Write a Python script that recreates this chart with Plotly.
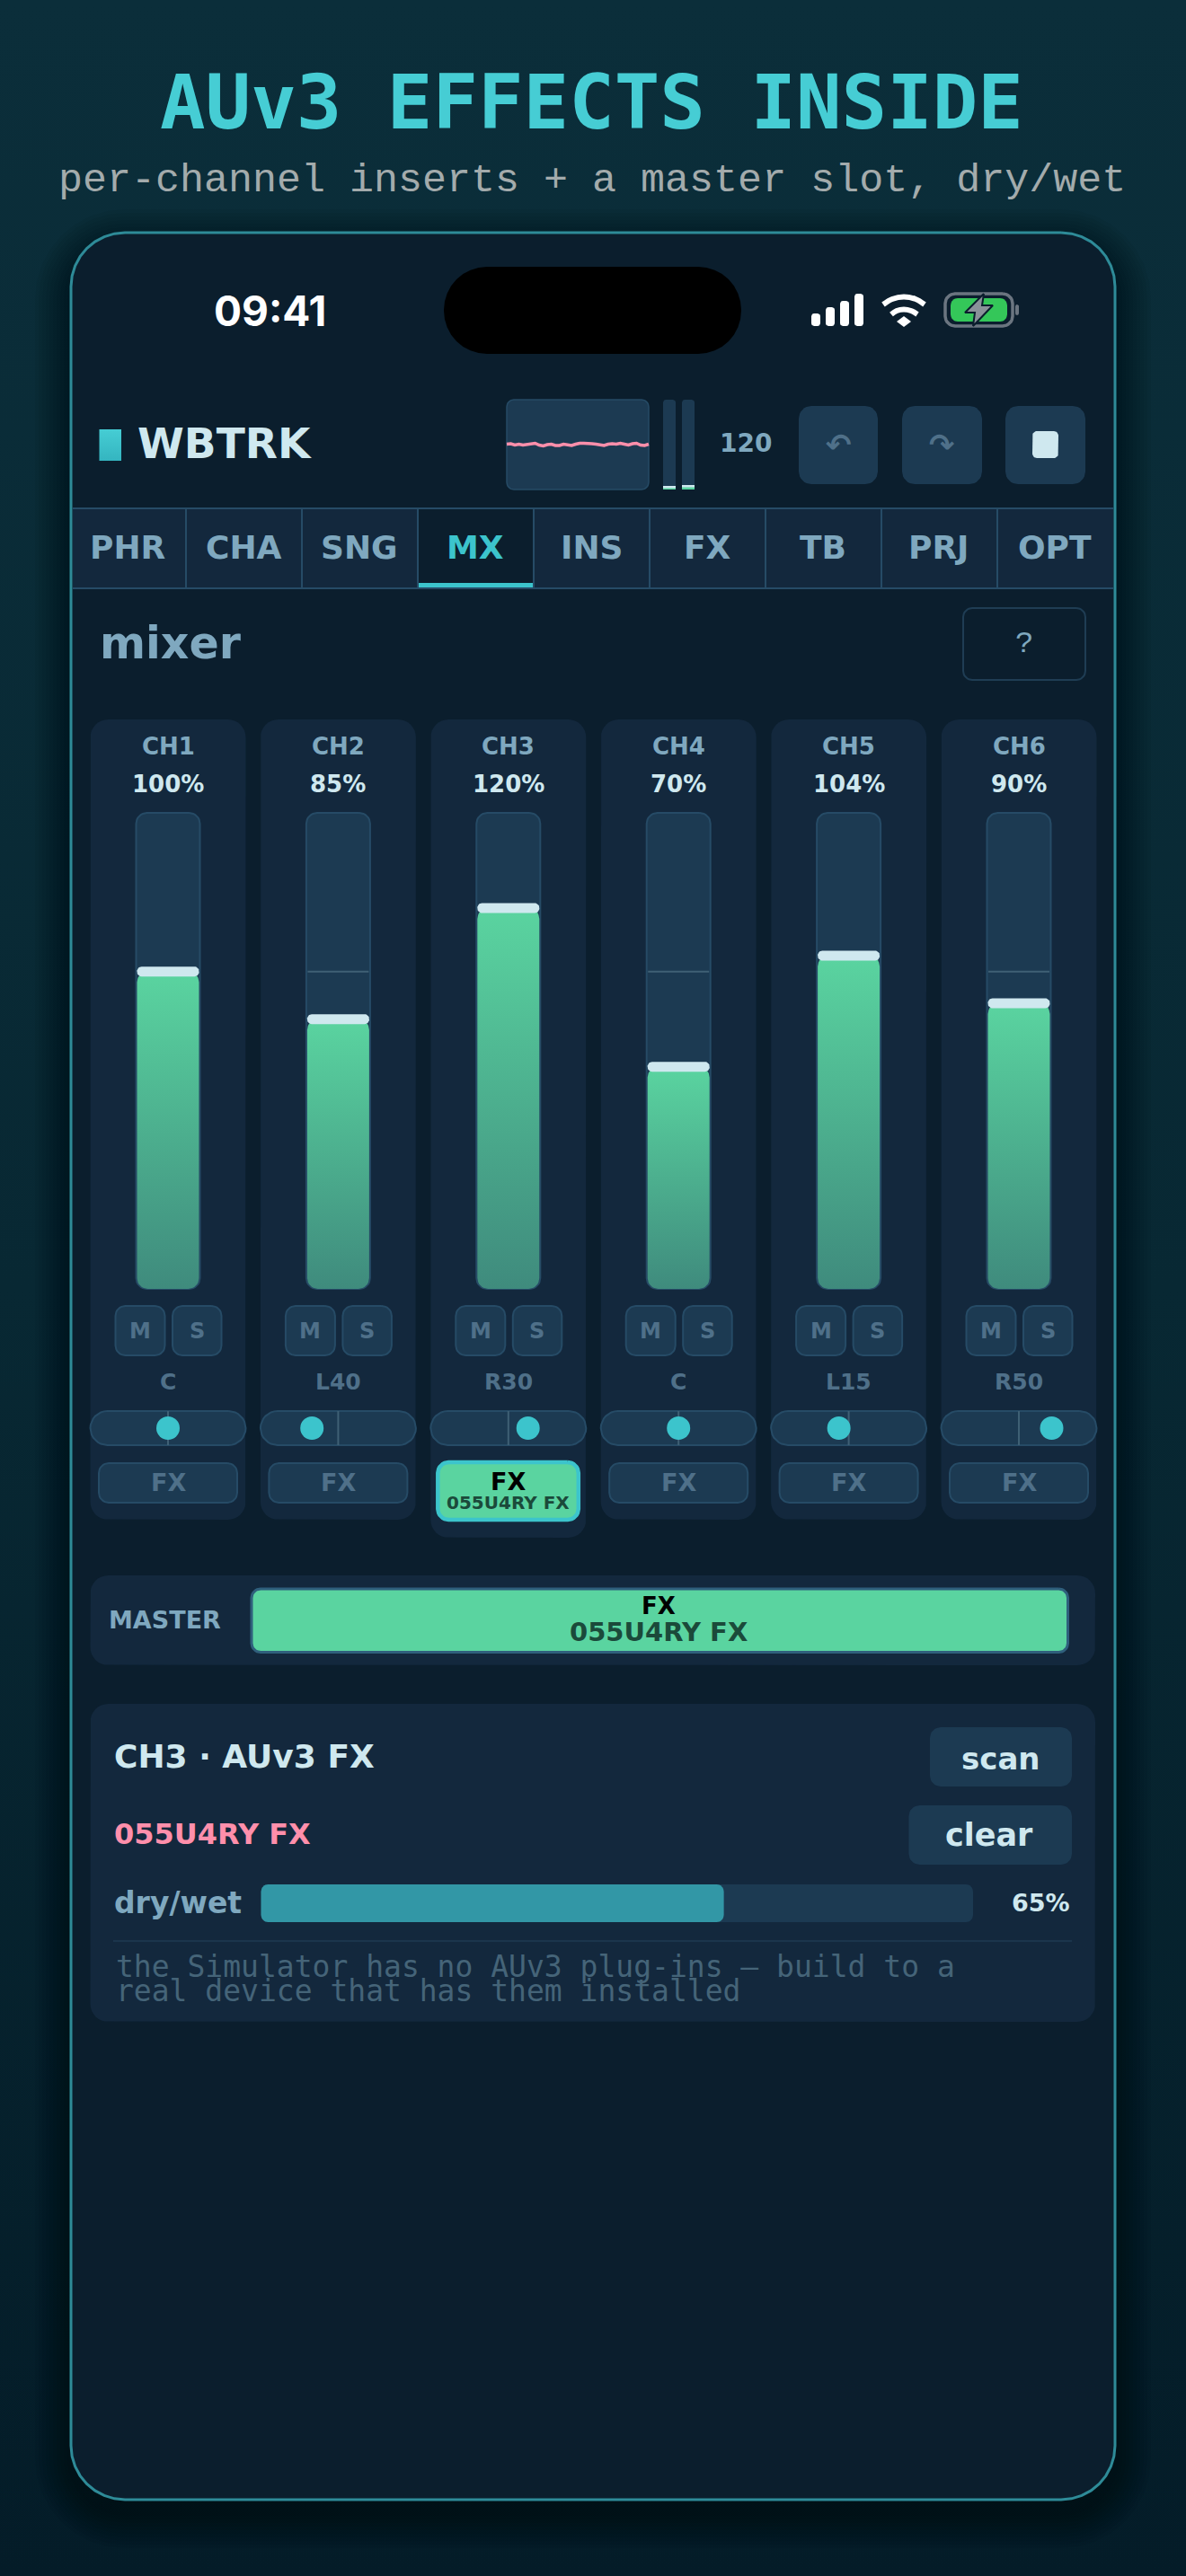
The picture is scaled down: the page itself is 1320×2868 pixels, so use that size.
import numpy as np
import plotly.graph_objects as go

# Chart values
channels = ["CH1", "CH2", "CH3", "CH4", "CH5", "CH6"]
volumes = [100, 85, 120, 70, 105, 90]
volume_labels = ["100%", "85%", "120%", "70%", "104%", "90%"]
pans = [0, -40, 30, 0, -15, 50]
pan_labels = ["C", "L40", "R30", "C", "L15", "R50"]
fx_loaded = [False, False, True, False, False, False]
tabs = ["PHR", "CHA", "SNG", "MX", "INS", "FX", "TB", "PRJ", "OPT"]
active_tab = "MX"
waveform = [0.01, 0.02, -0.01, 0.01, -0.01, 0.0, 0.02, 0.03, -0.01, -0.03, 0.0, 0.01, -0.02,
            -0.02, 0.01, -0.01, -0.02, 0.01, 0.03, 0.03, 0.03, 0.02, 0.01, -0.01, -0.02, 0.01,
            0.02, 0.01, 0.03, 0.01, -0.01, 0.02, 0.03, -0.01, -0.02, 0.01]
meter_levels = [4, 5]
dry_wet = 65
signal_bars = [14, 21, 28, 36]

W, H = 1320, 2868
PHONE = "#0b1e2d"
PANEL = "#13283d"
RAISED = "#1c3a52"
EDGE = "#264b66"
TEAL = "#3cc4cc"
MINT = "#5ad4a0"
ICE = "#cfe8ef"
MUTED = "#7fa8bf"
DIM = "#4f7089"
PINK = "#ff8fab"
DARKGREEN = "#1b4a3a"
SANS = "DejaVu Sans"
MONO = "DejaVu Sans Mono"

FADER_TOP, FADER_BOTTOM, FADER_MAX = 905, 1435, 150
PX_PER_PCT = (FADER_BOTTOM - FADER_TOP) / FADER_MAX
PAN_PX = 0.73
STRIP_W = 173
strip_cx = [187 + 189.4 * i for i in range(len(channels))]

fig = go.Figure()
notes = []


def rounded_xy(x0, x1, y0, y1, r, ry=None):
    ry = r if ry is None else ry
    t = np.linspace(0, np.pi / 2, 9)
    xs = np.concatenate([x1 - r + r * np.sin(t), x1 - r + r * np.cos(t),
                         x0 + r - r * np.sin(t), x0 + r - r * np.cos(t)])
    ys = np.concatenate([y0 + ry - ry * np.cos(t), y1 - ry + ry * np.sin(t),
                         y1 - ry + ry * np.cos(t), y0 + ry - ry * np.sin(t)])
    return list(xs) + [xs[0]], list(ys) + [ys[0]]


def box(x0, x1, y0, y1, r=0, fill=None, line=None, lw=0, **kw):
    xs, ys = rounded_xy(x0, x1, y0, y1, r) if r else ([x0, x1, x1, x0, x0], [y0, y0, y1, y1, y0])
    fig.add_trace(go.Scatter(x=xs, y=ys, mode="lines", fill="toself" if fill else "none",
                             fillcolor=fill, line=dict(color=line or "rgba(0,0,0,0)", width=lw),
                             hoverinfo="skip", showlegend=False, **kw))


def path(xs, ys, color, lw, **kw):
    fig.add_trace(go.Scatter(x=xs, y=ys, mode="lines", line=dict(color=color, width=lw, **kw),
                             hoverinfo="skip", showlegend=False))


def text(x, y, s, size, color, family=SANS, bold=True, anchor="center"):
    notes.append(dict(x=x, y=y, xref="x", yref="y", text=s, showarrow=False, xanchor=anchor,
                      yanchor="middle", borderpad=0,
                      font=dict(family=family, size=size, color=color, weight=700 if bold else 400)))


# page background
fig.add_trace(go.Scatter(x=[0, W, W, 0, 0], y=[0, 0, H, H, 0], mode="lines", fill="toself",
                         line=dict(width=0), hoverinfo="skip", showlegend=False,
                         fillgradient=dict(type="vertical", start=0, stop=H,
                                           colorscale=[[0, "#0b2e3a"], [0.5, "#082833"], [1, "#041c28"]])))

text(658, 114, "AUv3 EFFECTS INSIDE", 84, "#46cdd4", MONO)
text(659, 201, "per-channel inserts + a master slot, dry/wet", 45, "#a3abac", "Liberation Mono", False)

# phone body with a soft shadow
for grow in range(4, 44, 4):
    box(79 - grow, 1241 + grow, 259 - grow + 14, 2783 + grow + 14, 60 + grow, fill="rgba(0,0,0,0.04)")
box(79, 1241, 259, 2783, 60, fill=PHONE, line="#2e8b98", lw=3)

# status bar
text(300, 346, "09:41", 46, "#ffffff", "Inter", True)
box(494, 825, 297, 394, 48, fill="#000000")
for i, bar in enumerate(signal_bars):
    box(903 + 16 * i, 913 + 16 * i, 363 - bar, 363, 3, fill="#ffffff")
path([983, 993, 1006, 1019, 1029], [339, 333, 330.5, 333, 339], "#ffffff", 6, shape="spline")
path([992, 998, 1006, 1014, 1021], [350, 346, 344.5, 346, 350], "#ffffff", 6, shape="spline")
fig.add_trace(go.Scatter(x=[1006, 998, 1006, 1014, 1006], y=[352, 358, 364, 358, 352], mode="lines",
                         fill="toself", fillcolor="#ffffff", line=dict(width=0), hoverinfo="skip",
                         showlegend=False))
box(1052, 1127, 327, 363, 11, line="#6b7580", lw=3.5)
box(1058, 1121, 332, 358, 8, fill="#34c759")
box(1130, 1134, 339, 351, 2, fill="#6b7580")
fig.add_trace(go.Scatter(x=[1095, 1074, 1085, 1083, 1105, 1093, 1095], y=[327, 348, 348, 363, 340, 340, 327],
                         mode="lines", fill="toself", fillcolor="#8a9199",
                         line=dict(color=PHONE, width=2), hoverinfo="skip", showlegend=False))

# app header
fig.add_trace(go.Scatter(x=[110.5, 135, 135, 110.5, 110.5], y=[478, 478, 513, 513, 478], mode="lines",
                         fill="toself", line=dict(width=0), hoverinfo="skip", showlegend=False,
                         fillgradient=dict(type="vertical", start=478, stop=513,
                                           colorscale=[[0, "#46cdd4"], [1, "#34b5c0"]])))
text(152, 493, "WBTRK", 47, ICE, anchor="left")
box(564, 722, 445, 545, 8, fill=RAISED, line=EDGE, lw=1.5)
wave_x = [564 + 158 * i / (len(waveform) - 1) for i in range(len(waveform))]
path(wave_x, [495 - 50 * v for v in waveform], PINK, 3.5)
for mx, level in zip([738, 759], meter_levels):
    box(mx, mx + 14, 445, 545, 3, fill=RAISED)
    box(mx, mx + 14, 545 - level, 545, 0, fill=MINT)
    box(mx, mx + 14, 545 - level, 545 - level + 2.5, 0, fill=ICE)
text(830, 493, "120", 28, MUTED)
for x0, x1, glyph in [(889, 977, "↶"), (1004, 1093, "↷")]:
    box(x0, x1, 452, 539, 14, fill=RAISED)
    text((x0 + x1) / 2, 495, glyph, 34, DIM)
box(1119, 1208, 452, 539, 14, fill=RAISED)
box(1149, 1178, 480, 510, 5, fill=ICE)

# tab row
box(81, 1239, 566, 655, 0, fill=PANEL)
for i, tab in enumerate(tabs):
    x0 = 78 + 129 * i
    cx = x0 + 64
    if tab == active_tab:
        box(x0 + 1, x0 + 128, 567, 655, 0, fill=PHONE)
        box(x0 + 1, x0 + 128, 649, 655, 0, fill=TEAL)
    text(cx, 609, tab, 36, TEAL if tab == active_tab else MUTED)
    if i:
        path([x0, x0], [566, 655], EDGE, 2)
path([81, 1239], [566, 566], EDGE, 2)
path([81, 1239], [655, 655], EDGE, 2)

text(110, 716, "mixer", 49, MUTED, anchor="left")
box(1072, 1208, 677, 757, 10, line="#1f3d54", lw=2)
text(1140, 717, "?", 34, MUTED, "Liberation Mono", False)

# channel strips
for ch, cx, vol_label, pan, pan_label, loaded in zip(channels, strip_cx, volume_labels, pans, pan_labels, fx_loaded):
    box(cx - STRIP_W / 2, cx + STRIP_W / 2, 801, 1712 if loaded else 1692, 20, fill=PANEL)
    box(cx - 35.5, cx + 35.5, FADER_TOP, FADER_BOTTOM, 12, fill=RAISED, line=EDGE, lw=2)
    box(cx - 58.5, cx - 3.5, 1454, 1509, 11, fill=RAISED, line=EDGE, lw=2)
    box(cx + 5, cx + 59.5, 1454, 1509, 11, fill=RAISED, line=EDGE, lw=2)
    box(cx - STRIP_W / 2, cx + STRIP_W / 2, 1571, 1609, 19, fill=RAISED, line=EDGE, lw=2)
    path([cx, cx], [1571, 1609], "#3f6075", 2)
    fig.add_trace(go.Scatter(x=[cx + PAN_PX * pan], y=[1590], mode="markers", hoverinfo="skip",
                             showlegend=False, marker=dict(size=26, color=TEAL, line=dict(width=0))))
    if loaded:
        box(cx - 78.5, cx + 78, 1628, 1692, 12, fill=MINT, line=TEAL, lw=4.5)
        text(cx, 1649, "FX", 27, "#000000")
        text(cx, 1673, "055U4RY FX", 20, DARKGREEN)
    else:
        box(cx - 77, cx + 77, 1629, 1673, 11, fill=RAISED, line=EDGE, lw=2)
        text(cx, 1650, "FX", 27, DIM)
    text(cx, 831, ch, 26, MUTED)
    text(cx, 873, vol_label, 26, ICE)
    text(cx - 31, 1482, "M", 24, DIM)
    text(cx + 32, 1482, "S", 24, DIM)
    text(cx, 1538, pan_label, 25, DIM)

# master slot
box(100.5, 1219, 1754, 1854, 20, fill=PANEL)
text(120, 1803, "MASTER", 27, MUTED, anchor="left")
box(280, 1188.5, 1769, 1839.5, 10, fill=MINT, line="#2f5f7c", lw=3)
text(733, 1788, "FX", 26, "#000000")
text(733, 1817, "055U4RY FX", 29, DARKGREEN)

# inspector panel
box(100.5, 1219, 1897, 2251, 20, fill=PANEL)
text(126, 1955, "CH3 · AUv3 FX", 36, ICE, anchor="left")
text(126, 2042, "055U4RY FX", 32, PINK, anchor="left")
box(1035, 1193, 1923, 1989, 12, fill=RAISED)
text(1114, 1958, "scan", 34, ICE)
box(1011.5, 1193, 2010, 2076, 12, fill=RAISED)
text(1101, 2043, "clear", 35, ICE)
text(126, 2118, "dry/wet", 33, MUTED, anchor="left")
SLIDER_L, SLIDER_R = 290.5, 1083
box(SLIDER_L, SLIDER_R, 2098, 2140, 8, fill=RAISED)
box(SLIDER_L, SLIDER_L + (SLIDER_R - SLIDER_L) * dry_wet / 100, 2098, 2140, 8, fill="#3297a6")
text(1192, 2118, f"{dry_wet}%", 27, ICE, anchor="right")
path([126, 1193], [2161, 2161], "#24435c", 1)
text(128, 2189, "the Simulator has no AUv3 plug-ins — build to a", 33, "#456478", MONO, False, "left")
text(128, 2216, "real device that has them installed", 33, "#456478", MONO, False, "left")

# fader fills sit on their own axis, 0-150 %
ry = 12 / PX_PER_PCT
for cx, vol in zip(strip_cx, volumes):
    if vol < 100:
        path([cx - 34, cx + 34], [100, 100], "#3f6075", 2)
        fig.data[-1].yaxis = "y2"
    xs, ys = rounded_xy(cx - 34.5, cx + 34.5, 0, vol, 12, ry)
    fig.add_trace(go.Scatter(x=xs, y=ys, yaxis="y2", mode="lines", fill="toself", line=dict(width=0),
                             hoverinfo="skip", showlegend=False,
                             fillgradient=dict(type="vertical", start=0, stop=vol,
                                               colorscale=[[0, "#3f8b7d"], [1, MINT]])))
    xs, ys = rounded_xy(cx - 34.5, cx + 34.5, vol - 5.5 / PX_PER_PCT, vol + 5.5 / PX_PER_PCT, 5, 5 / PX_PER_PCT)
    fig.add_trace(go.Scatter(x=xs, y=ys, yaxis="y2", mode="lines", fill="toself", fillcolor=ICE,
                             line=dict(width=0), hoverinfo="skip", showlegend=False))

hidden = dict(visible=False, showgrid=False, zeroline=False, fixedrange=True)
fig.update_layout(
    width=W, height=H, autosize=False, margin=dict(l=0, r=0, t=0, b=0),
    paper_bgcolor="#041c28", plot_bgcolor="rgba(0,0,0,0)", showlegend=False,
    xaxis=dict(range=[0, W], **hidden),
    yaxis=dict(range=[H, 0], **hidden),
    yaxis2=dict(range=[0, FADER_MAX], anchor="x",
                domain=[(H - FADER_BOTTOM) / H, (H - FADER_TOP) / H], **hidden),
    annotations=notes,
)

fig.write_html("out.html", config=dict(displayModeBar=False),
               post_script="document.body.style.margin='0';")
